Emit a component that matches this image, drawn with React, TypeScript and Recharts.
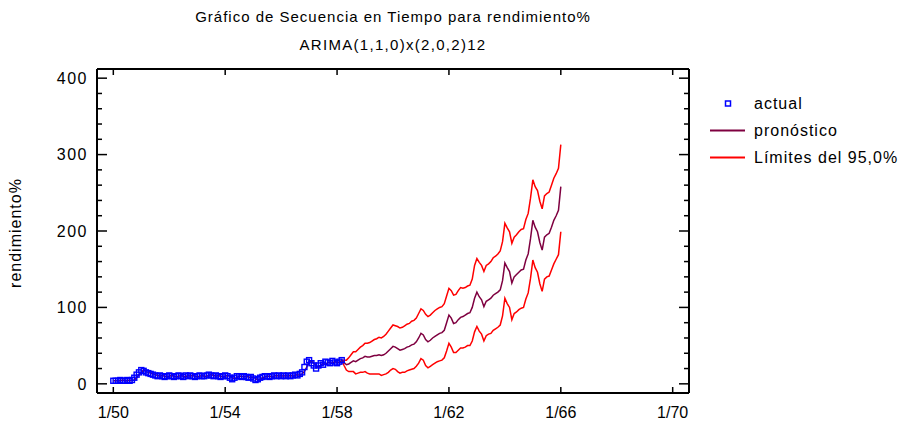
import { ComposedChart, Line, XAxis, YAxis } from "recharts";

// months counted from 1/50
const MONTH_TICKS = [0, 48, 96, 144, 192, 240];
const MONTH_LABELS = ["1/50", "1/54", "1/58", "1/62", "1/66", "1/70"];
const Y_TICKS = [0, 20, 40, 60, 80, 100, 120, 140, 160, 180, 200, 220, 240, 260, 280, 300, 320, 340, 360, 380, 400];

// observed values, months 0..98
const ACTUAL = [
  4, 4, 4, 5, 4, 4, 5, 4, 5, 8,
  12, 15, 18, 17, 15, 14, 13, 12, 11, 10,
  11, 10, 9, 10, 11, 10, 9, 10, 11, 10,
  9, 11, 10, 11, 10, 9, 10, 11, 10, 10,
  11, 12, 11, 10, 11, 10, 9, 10, 11, 10,
  8, 6, 8, 10, 10, 9, 10, 9, 8, 9,
  7, 5, 6, 8, 9, 10, 10, 9, 10, 11,
  10, 11, 10, 11, 10, 11, 10, 11, 12, 11,
  13, 15, 22, 29, 31, 27, 24, 20, 24, 27,
  25, 29, 28, 27, 30, 28, 27, 29, 31,
];

// one-step fitted values, months 0..97
const FITTED = [
  4, 4, 4, 4, 5, 4, 4, 5, 4, 5,
  8, 12, 15, 18, 16, 15, 14, 13, 12, 11,
  10, 11, 10, 9, 10, 11, 10, 9, 10, 11,
  10, 9, 11, 10, 11, 10, 9, 10, 11, 10,
  10, 11, 12, 11, 10, 11, 10, 9, 10, 11,
  10, 8, 7, 8, 10, 10, 9, 10, 9, 8,
  9, 7, 5, 6, 8, 9, 10, 10, 9, 10,
  11, 10, 11, 10, 11, 10, 11, 10, 11, 12,
  11, 13, 16, 22, 29, 30, 27, 24, 21, 24,
  27, 25, 28, 28, 27, 29, 28, 28,
];

// forecasts, months 98..192
const FORECAST_START = 98;
const FORECAST = [
  31, 28, 25, 26, 28, 30, 29, 31, 33, 34,
  36, 35, 35, 36, 37, 37, 38, 37, 38, 40,
  43, 46, 49, 48, 46, 44, 45, 46, 48, 49,
  51, 52, 55, 60, 66, 64, 58, 55, 57, 60,
  62, 64, 66, 67, 70, 80, 90, 86, 79, 80,
  84, 87, 88, 90, 92, 93, 100, 112, 120, 114,
  110, 101, 108, 110, 112, 116, 118, 120, 123, 135,
  158, 152, 147, 132, 140, 143, 146, 149, 150, 162,
  170, 190, 214, 205, 199, 185, 175, 192, 195, 197,
  205, 214, 220, 227, 258,
];
const UPPER = [
  31, 31, 31, 34, 38, 42, 42, 45, 48, 50,
  53, 53, 54, 56, 58, 59, 61, 60, 62, 65,
  69, 73, 77, 76, 75, 73, 74, 76, 78, 79,
  82, 83, 86, 92, 98, 96, 91, 88, 90, 93,
  96, 98, 100, 101, 105, 115, 125, 122, 116, 117,
  122, 126, 125, 126, 128, 129, 137, 155, 164, 159,
  155, 147, 155, 157, 160, 165, 167, 170, 174, 186,
  210, 204, 199, 184, 192, 195, 199, 202, 203, 215,
  223, 243, 267, 258, 253, 239, 229, 246, 249, 251,
  260, 269, 275, 282, 313,
];
const LOWER = [
  31, 24, 18, 16, 16, 16, 13, 14, 15, 15,
  16, 14, 13, 13, 13, 13, 13, 11, 12, 13,
  15, 18, 20, 19, 16, 14, 15, 15, 17, 18,
  19, 20, 23, 27, 33, 31, 24, 21, 23, 25,
  27, 29, 30, 31, 34, 43, 53, 48, 41, 41,
  44, 47, 47, 48, 50, 50, 56, 68, 75, 69,
  65, 56, 63, 65, 66, 70, 72, 74, 77, 89,
  112, 105, 100, 84, 92, 94, 97, 99, 100, 111,
  119, 138, 162, 152, 146, 131, 121, 137, 140, 141,
  149, 157, 163, 169, 199,
];

const LAST_MONTH = FORECAST_START + FORECAST.length - 1;

const data = Array.from({ length: LAST_MONTH + 1 }, (_, m) => {
  const f = m - FORECAST_START;
  return {
    m,
    actual: m < ACTUAL.length ? ACTUAL[m] : null,
    pron: f < 0 ? FITTED[m] ?? null : FORECAST[f],
    upper: f >= 0 ? UPPER[f] : null,
    lower: f >= 0 ? LOWER[f] : null,
  };
});

const FONT = "'Liberation Sans', Arial, sans-serif";
const BLUE = "#0000ff";
const PRON = "#7f0040";
const RED = "#ff0000";

const SquareDot = (props: any) => {
  const { cx, cy, index } = props;
  if (cx == null || cy == null) return <g key={`d${index}`} />;
  return (
    <rect
      key={`d${index}`}
      x={cx - 2.5}
      y={cy - 2.5}
      width={5}
      height={5}
      fill="none"
      stroke={BLUE}
      strokeWidth={1.4}
    />
  );
};

const BottomTick = (props: any) => {
  const { x, y, payload } = props;
  const label = MONTH_LABELS[MONTH_TICKS.indexOf(payload.value)];
  return (
    <g>
      <line x1={x} x2={x} y1={y} y2={y - 6} stroke="#000" strokeWidth={1.5} />
      <text x={x} y={y + 25} textAnchor="middle" fontSize={16} fill="#000" style={{ fontFamily: FONT }}>
        {label}
      </text>
    </g>
  );
};

const TopTick = (props: any) => {
  const { x, y } = props;
  return <line x1={x} x2={x} y1={y} y2={y + 6} stroke="#000" strokeWidth={1.5} />;
};

const LeftTick = (props: any) => {
  const { x, y, payload } = props;
  const major = payload.value % 100 === 0;
  return (
    <g>
      <line x1={x} x2={x + (major ? 10 : 5)} y1={y} y2={y} stroke="#000" strokeWidth={1.5} />
      {major && (
        <text x={x - 9} y={y} dy="0.36em" textAnchor="end" fontSize={16} letterSpacing={1.5} fill="#000" style={{ fontFamily: FONT }}>
          {payload.value}
        </text>
      )}
    </g>
  );
};

const RightTick = (props: any) => {
  const { x, y, payload } = props;
  const major = payload.value % 100 === 0;
  return <line x1={x} x2={x - (major ? 10 : 5)} y1={y} y2={y} stroke="#000" strokeWidth={1.5} />;
};

const axisLine = { stroke: "#000", strokeWidth: 2 };

export default function App() {
  return (
    <div style={{ position: "absolute", left: 0, top: 0, width: 901, height: 425, background: "#fff", fontFamily: FONT, color: "#000", overflow: "hidden" }}>
      <div style={{ position: "absolute", left: 93, width: 600, top: 7, textAlign: "center", fontSize: 15, letterSpacing: 1, lineHeight: "20px" }}>
        Gráfico de Secuencia en Tiempo para rendimiento%
      </div>
      <div style={{ position: "absolute", left: 93, width: 600, top: 35, textAlign: "center", fontSize: 15, letterSpacing: 1.3, lineHeight: "20px" }}>
        ARIMA(1,1,0)x(2,0,2)12
      </div>
      <div
        style={{
          position: "absolute",
          left: 16,
          top: 233,
          transform: "translate(-50%, -50%) rotate(-90deg)",
          fontSize: 16,
          letterSpacing: 1,
          whiteSpace: "nowrap",
        }}
      >
        rendimiento%
      </div>

      <ComposedChart width={901} height={425} data={data} margin={{ top: 64, right: 207, bottom: 7, left: 37 }}>
        <XAxis
          xAxisId="b"
          dataKey="m"
          type="number"
          domain={[-7, 247]}
          allowDataOverflow
          ticks={MONTH_TICKS}
          interval={0}
          height={25}
          axisLine={axisLine}
          tickLine={false}
          tickSize={0}
          tickMargin={0}
          tick={<BottomTick />}
        />
        <XAxis
          xAxisId="t"
          orientation="top"
          dataKey="m"
          type="number"
          domain={[-7, 247]}
          allowDataOverflow
          ticks={MONTH_TICKS}
          interval={0}
          height={5}
          axisLine={axisLine}
          tickLine={false}
          tickSize={0}
          tickMargin={0}
          tick={<TopTick />}
        />
        <YAxis
          yAxisId="l"
          type="number"
          domain={[-12, 412]}
          allowDataOverflow
          ticks={Y_TICKS}
          interval={0}
          width={60}
          axisLine={axisLine}
          tickLine={false}
          tickSize={0}
          tickMargin={0}
          tick={<LeftTick />}
        />
        <YAxis
          yAxisId="r"
          orientation="right"
          type="number"
          domain={[-12, 412]}
          allowDataOverflow
          ticks={Y_TICKS}
          interval={0}
          width={5}
          axisLine={axisLine}
          tickLine={false}
          tickSize={0}
          tickMargin={0}
          tick={<RightTick />}
        />
        <Line
          xAxisId="b"
          yAxisId="l"
          dataKey="actual"
          stroke="none"
          dot={SquareDot}
          activeDot={false}
          isAnimationActive={false}
        />
        <Line xAxisId="b" yAxisId="l" dataKey="upper" stroke={RED} strokeWidth={1.5} dot={false} isAnimationActive={false} />
        <Line xAxisId="b" yAxisId="l" dataKey="lower" stroke={RED} strokeWidth={1.5} dot={false} isAnimationActive={false} />
        <Line xAxisId="b" yAxisId="l" dataKey="pron" stroke={PRON} strokeWidth={1.5} dot={false} isAnimationActive={false} />
      </ComposedChart>

      {/* Legend */}
      <div style={{ position: "absolute", left: 706, top: 90, fontSize: 16, letterSpacing: 1 }}>
        <div style={{ display: "flex", alignItems: "center", height: 27 }}>
          <svg width={44} height={27}>
            <rect x={19.5} y={11} width={5} height={5} fill="#fff" stroke={BLUE} strokeWidth={1.5} />
          </svg>
          <span style={{ marginLeft: 4 }}>actual</span>
        </div>
        <div style={{ display: "flex", alignItems: "center", height: 27 }}>
          <svg width={44} height={27}>
            <line x1={4} x2={39} y1={13.5} y2={13.5} stroke={PRON} strokeWidth={2} />
          </svg>
          <span style={{ marginLeft: 4 }}>pronóstico</span>
        </div>
        <div style={{ display: "flex", alignItems: "center", height: 27, whiteSpace: "nowrap" }}>
          <svg width={44} height={27}>
            <line x1={4} x2={39} y1={13.5} y2={13.5} stroke={RED} strokeWidth={2} />
          </svg>
          <span style={{ marginLeft: 4 }}>Límites del 95,0%</span>
        </div>
      </div>
    </div>
  );
}
